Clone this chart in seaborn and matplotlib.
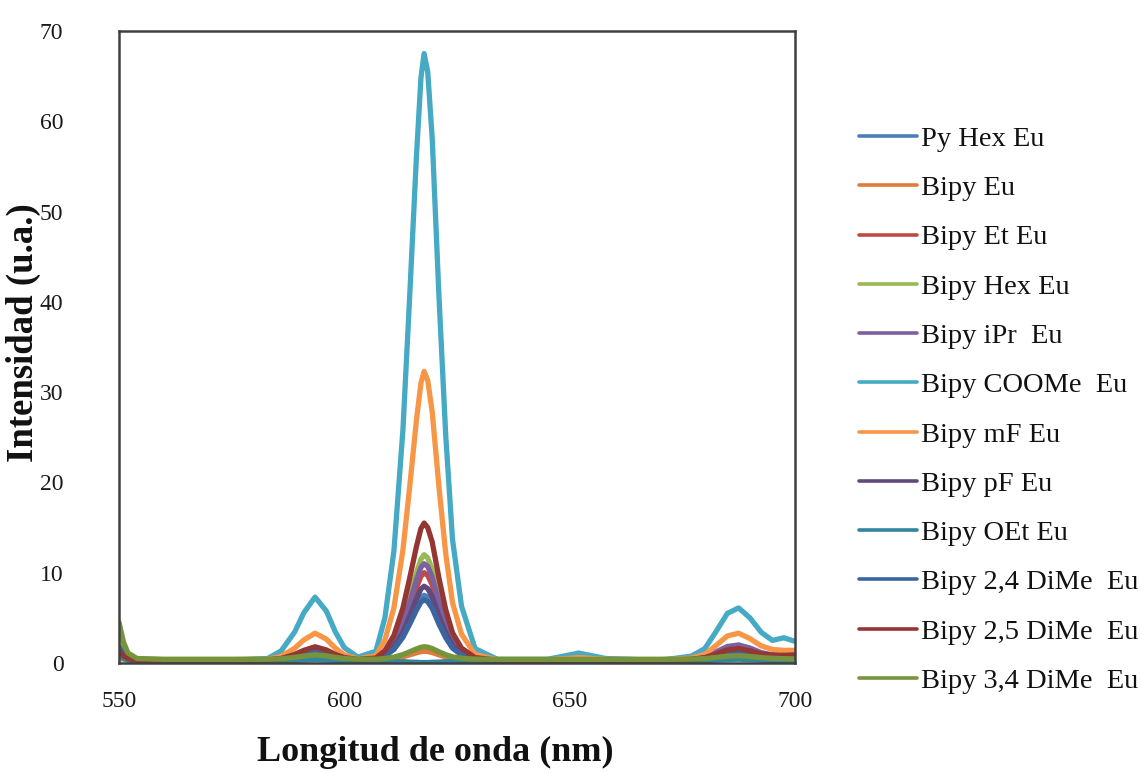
import matplotlib
matplotlib.use("Agg")
import matplotlib.pyplot as plt
import seaborn as sns
import pandas as pd
from matplotlib.lines import Line2D

wavelength = [550, 551, 552, 554, 560, 575, 583, 586, 589, 591, 593.5, 596, 598, 600, 603,
              607, 609, 611, 613, 614.5, 616, 617, 617.7, 618.5, 619.5, 621, 622.5, 624, 626, 629,
              634, 645, 652, 658, 670, 677, 680, 682.5, 685, 687.5, 690, 692.5, 695, 697.5, 700]

py_hex_eu = [2.2, 1.2, 0.65, 0.35, 0.3, 0.3, 0.33, 0.45, 0.75, 1.05, 1.3, 1.08, 0.75, 0.5, 0.35,
             0.41, 0.8, 1.6, 3.05, 4.6, 6.3, 7.2, 7.5, 7.3, 6.5, 4.6, 2.95, 1.75, 0.95, 0.45,
             0.3, 0.3, 0.3, 0.3, 0.3, 0.36, 0.48, 0.74, 1.02, 1.1, 0.95, 0.7, 0.55, 0.5, 0.5]
bipy_eu = [1.0, 0.6, 0.4, 0.3, 0.3, 0.3, 0.32, 0.38, 0.53, 0.68, 0.8, 0.69, 0.53, 0.4, 0.33,
           0.32, 0.37, 0.48, 0.68, 0.9, 1.13, 1.26, 1.3, 1.27, 1.16, 0.9, 0.67, 0.5, 0.39, 0.32,
           0.3, 0.3, 0.5, 0.35, 0.3, 0.34, 0.41, 0.58, 0.75, 0.8, 0.7, 0.55, 0.45, 0.4, 0.4]
bipy_et_eu = [1.5, 0.85, 0.5, 0.3, 0.3, 0.3, 0.34, 0.48, 0.84, 1.2, 1.5, 1.24, 0.84, 0.54, 0.36,
              0.45, 0.98, 2.05, 4.0, 6.1, 8.35, 9.6, 10.0, 9.7, 8.65, 6.1, 3.9, 2.25, 1.15, 0.5,
              0.3, 0.3, 0.3, 0.3, 0.3, 0.38, 0.52, 0.85, 1.2, 1.3, 1.1, 0.8, 0.65, 0.6, 0.6]
bipy_hex_eu = [2.5, 1.3, 0.7, 0.45, 0.4, 0.4, 0.45, 0.6, 0.95, 1.3, 1.6, 1.35, 0.95, 0.65, 0.45,
               0.57, 1.2, 2.5, 4.8, 7.4, 10.0, 11.5, 12.0, 11.65, 10.4, 7.4, 4.7, 2.7, 1.45, 0.63,
               0.4, 0.4, 0.4, 0.4, 0.4, 0.46, 0.58, 0.84, 1.1, 1.2, 1.05, 0.8, 0.65, 0.6, 0.55]
bipy_ipr_eu = [1.2, 0.7, 0.45, 0.3, 0.3, 0.3, 0.34, 0.5, 0.9, 1.28, 1.6, 1.3, 0.9, 0.56, 0.37,
               0.46, 1.05, 2.2, 4.4, 6.7, 9.2, 10.6, 11.0, 10.7, 9.5, 6.7, 4.25, 2.45, 1.25, 0.5,
               0.3, 0.3, 0.35, 0.3, 0.3, 0.44, 0.67, 1.24, 1.83, 2.0, 1.66, 1.15, 0.9, 0.75, 0.8]
bipy_coome_eu = [0.8, 0.6, 0.45, 0.3, 0.3, 0.3, 0.5, 1.35, 3.45, 5.55, 7.3, 5.76, 3.45, 1.7, 0.65,
                 1.3, 5.0, 12.4, 25.8, 40.6, 56.1, 64.8, 67.5, 65.5, 58.1, 40.6, 25.2, 13.7, 6.3, 1.6,
                 0.4, 0.4, 1.1, 0.5, 0.3, 0.76, 1.6, 3.5, 5.5, 6.1, 5.0, 3.4, 2.5, 2.8, 2.4]
bipy_mf_eu = [0.5, 0.4, 0.35, 0.3, 0.3, 0.3, 0.4, 0.75, 1.65, 2.55, 3.3, 2.65, 1.65, 0.9, 0.45,
              0.8, 2.55, 6.1, 12.5, 19.5, 26.9, 31.0, 32.3, 31.3, 27.8, 19.5, 12.1, 6.7, 3.2, 0.95,
              0.35, 0.35, 0.6, 0.4, 0.3, 0.55, 0.95, 1.95, 3.0, 3.3, 2.7, 1.9, 1.5, 1.4, 1.4]
bipy_pf_eu = [1.0, 0.6, 0.4, 0.3, 0.3, 0.3, 0.33, 0.47, 0.8, 1.12, 1.4, 1.16, 0.8, 0.52, 0.35,
              0.42, 0.87, 1.78, 3.4, 5.2, 7.1, 8.2, 8.5, 8.25, 7.35, 5.2, 3.35, 1.95, 1.05, 0.46,
              0.3, 0.3, 0.3, 0.3, 0.3, 0.4, 0.56, 0.96, 1.38, 1.5, 1.26, 0.9, 0.7, 0.65, 0.65]
bipy_oet_eu = [0.8, 0.5, 0.3, 0.2, 0.2, 0.2, 0.2, 0.22, 0.28, 0.33, 0.38, 0.34, 0.28, 0.23, 0.2,
               0.2, 0.2, 0.18, 0.15, 0.1, 0.08, 0.05, 0.05, 0.05, 0.08, 0.1, 0.15, 0.18, 0.2, 0.2,
               0.2, 0.2, 0.25, 0.2, 0.2, 0.22, 0.26, 0.33, 0.4, 0.42, 0.38, 0.32, 0.28, 0.26, 0.25]
bipy_24dime_eu = [1.8, 1.0, 0.55, 0.32, 0.3, 0.3, 0.33, 0.45, 0.75, 1.05, 1.3, 1.08, 0.75, 0.5, 0.35,
                  0.4, 0.77, 1.5, 2.85, 4.3, 5.85, 6.75, 7.0, 6.8, 6.05, 4.3, 2.8, 1.65, 0.9, 0.43,
                  0.3, 0.3, 0.3, 0.3, 0.3, 0.37, 0.5, 0.8, 1.1, 1.2, 1.02, 0.75, 0.6, 0.55, 0.55]
bipy_25dime_eu = [1.3, 0.8, 0.5, 0.3, 0.3, 0.3, 0.35, 0.5, 0.95, 1.4, 1.8, 1.45, 0.95, 0.6, 0.4,
                  0.55, 1.35, 3.05, 6.1, 9.4, 12.9, 14.9, 15.5, 15.0, 13.4, 9.4, 5.9, 3.35, 1.65, 0.6,
                  0.3, 0.3, 0.35, 0.3, 0.3, 0.4, 0.6, 1.0, 1.45, 1.6, 1.35, 1.0, 0.9, 0.85, 0.9]
bipy_34dime_eu = [4.5, 2.3, 1.1, 0.5, 0.4, 0.4, 0.41, 0.47, 0.62, 0.77, 0.9, 0.8, 0.62, 0.5, 0.42,
                  0.42, 0.5, 0.65, 0.93, 1.24, 1.56, 1.74, 1.8, 1.76, 1.6, 1.24, 0.92, 0.68, 0.53, 0.43,
                  0.4, 0.4, 0.4, 0.4, 0.4, 0.43, 0.49, 0.62, 0.76, 0.8, 0.72, 0.6, 0.52, 0.48, 0.46]

series_names = ["Py Hex Eu", "Bipy Eu", "Bipy Et Eu", "Bipy Hex Eu", "Bipy iPr  Eu",
                "Bipy COOMe  Eu", "Bipy mF Eu", "Bipy pF Eu", "Bipy OEt Eu",
                "Bipy 2,4 DiMe  Eu", "Bipy 2,5 DiMe  Eu", "Bipy 3,4 DiMe  Eu"]
series_values = [py_hex_eu, bipy_eu, bipy_et_eu, bipy_hex_eu, bipy_ipr_eu, bipy_coome_eu,
                 bipy_mf_eu, bipy_pf_eu, bipy_oet_eu, bipy_24dime_eu, bipy_25dime_eu, bipy_34dime_eu]
colors = ["#4A7EBB", "#E07B39", "#BE4B48", "#98B954", "#7D60A0", "#46AAC5",
          "#F79646", "#604A7B", "#31859C", "#3C65A0", "#943634", "#77933C"]

x_ticks = [550, 600, 650, 700]
y_ticks = [0, 10, 20, 30, 40, 50, 60, 70]

rows = []
for name, vals in zip(series_names, series_values):
    for w, v in zip(wavelength, vals):
        rows.append({"Longitud": w, "Intensidad": v, "Serie": name})
df = pd.DataFrame(rows)

sns.set_style("white")
plt.rcParams["font.family"] = ["Liberation Serif", "DejaVu Serif"]

fig = plt.figure(figsize=(11.42, 7.73), dpi=100)
ax = fig.add_axes([119 / 1142, 1 - 663 / 773, 676 / 1142, 632 / 773])

palette = dict(zip(series_names, colors))
sns.lineplot(data=df, x="Longitud", y="Intensidad", hue="Serie", hue_order=series_names,
             palette=palette, linewidth=3.8, ax=ax, legend=False, estimator=None)

ax.set_xlim(550, 700)
ax.set_ylim(0, 70)
ax.set_xticks(x_ticks)
ax.set_yticks(y_ticks)
ax.tick_params(axis="both", length=0, labelsize=17, colors="#1a1a1a")
ax.tick_params(axis="y", pad=40)
ax.tick_params(axis="x", pad=20)
for s in ax.spines.values():
    s.set_visible(True)
    s.set_color("#404040")
    s.set_linewidth(1.8)

ax.set_xlabel("Longitud de onda (nm)", fontsize=26, fontweight="bold", color="#111111")
ax.set_ylabel("Intensidad (u.a.)", fontsize=26.5, fontweight="bold", color="#111111")
ax.xaxis.set_label_coords((435 - 119) / 676, -(752 - 663) / 632)
ax.yaxis.set_label_coords(-(119 - 23) / 676, (663 - 333) / 632)
ax.xaxis.label.set_va("center")
ax.yaxis.label.set_va("center")

handles = [Line2D([0], [0], color=c, lw=2.6) for c in colors]
leg = fig.legend(handles, series_names, loc="center left",
                 bbox_to_anchor=(859 / 1142, 1 - 410 / 773),
                 frameon=False, fontsize=20.5, handlelength=2.05, handletextpad=0.12,
                 labelspacing=0.82, borderpad=0, borderaxespad=0)
for t in leg.get_texts():
    t.set_color("#111111")

fig.savefig("out.png", dpi=100, facecolor="white")
